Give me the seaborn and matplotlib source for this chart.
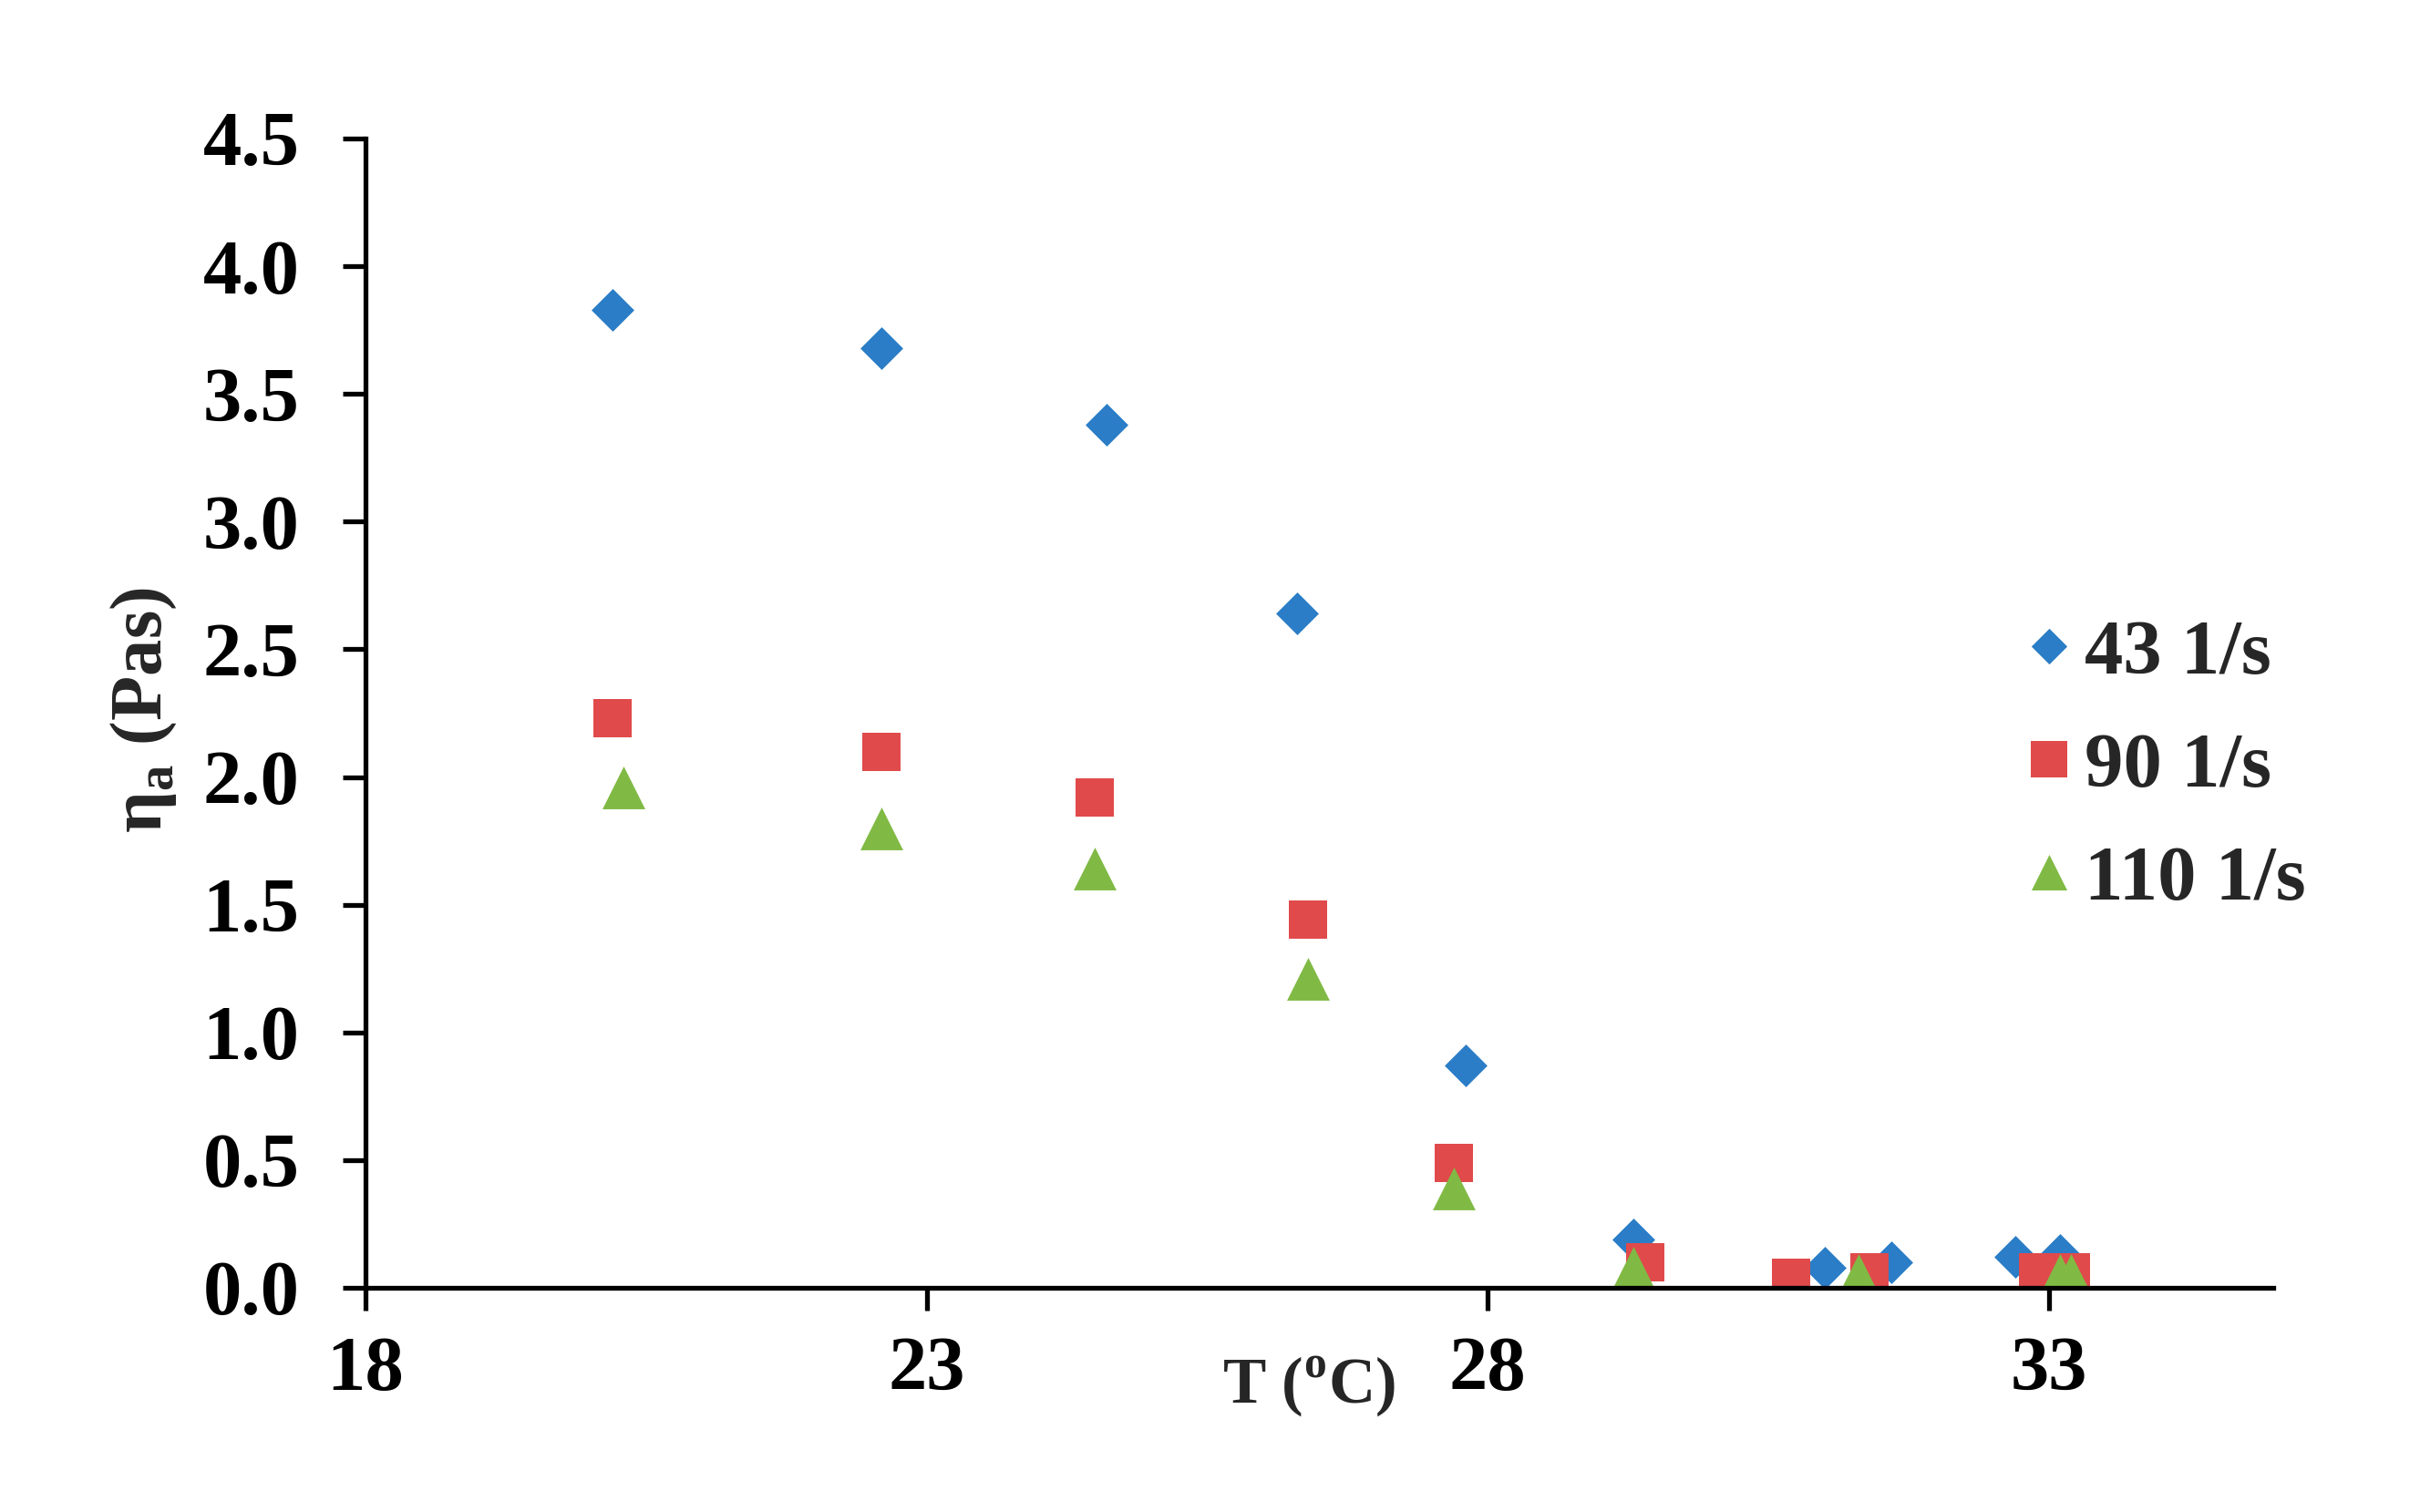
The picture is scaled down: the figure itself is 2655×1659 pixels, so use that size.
import matplotlib as mpl
mpl.use('Agg')
import matplotlib.pyplot as plt
import seaborn as sns
import numpy as np
from matplotlib.ticker import FormatStrFormatter

# shear rate 43 1/s
T43 = [20.2, 22.6, 24.6, 26.3, 27.8, 29.3, 31.0, 31.6, 32.7, 33.1]
eta43 = [3.83, 3.68, 3.38, 2.64, 0.87, 0.19, 0.08, 0.10, 0.12, 0.13]
# shear rate 90 1/s
T90 = [20.2, 22.6, 24.5, 26.4, 27.7, 29.4, 30.7, 31.4, 32.9, 33.2]
eta90 = [2.23, 2.10, 1.92, 1.44, 0.49, 0.10, 0.04, 0.06, 0.06, 0.06]
# shear rate 110 1/s
T110 = [20.3, 22.6, 24.5, 26.4, 27.7, 29.3, 31.3, 33.1, 33.2]
eta110 = [1.96, 1.80, 1.64, 1.21, 0.39, 0.08, 0.05, 0.05, 0.05]

labels = ["43 1/s", "90 1/s", "110 1/s"]
colors = ["#2A7DC6", "#E04A4A", "#80BA45"]
markers = ["D", "s", "^"]
sizes = [570, 910, 1140]
leg_sizes = [400, 870, 790]

xticks = [18, 23, 28, 33]
yticks = [0.0, 0.5, 1.0, 1.5, 2.0, 2.5, 3.0, 3.5, 4.0, 4.5]

sns.set_style("ticks")
plt.rcParams['font.family'] = ['Liberation Serif', 'DejaVu Serif']
plt.rcParams['font.weight'] = 'bold'
plt.rcParams['mathtext.fontset'] = 'custom'
plt.rcParams['mathtext.rm'] = 'Liberation Serif'
plt.rcParams['mathtext.bf'] = 'Liberation Serif:bold'

fig = plt.figure(figsize=(26.55, 16.59), dpi=100)
ax = fig.add_axes([0.151, 0.1483, 0.7884, 0.7601])

series = [(T43, eta43), (T90, eta90), (T110, eta110)]
for (x, y), lab, c, m, s in zip(series, labels, colors, markers, sizes):
    sns.scatterplot(x=x, y=y, ax=ax, marker=m, s=s, color=c,
                    linewidth=0, label=lab)

ax.set_xlim(18, 35)
ax.set_ylim(0, 4.5)
ax.set_xticks(xticks)
ax.set_yticks(yticks)
ax.yaxis.set_major_formatter(FormatStrFormatter('%.1f'))

for sp in ['top', 'right']:
    ax.spines[sp].set_visible(False)
for sp in ['left', 'bottom']:
    ax.spines[sp].set_linewidth(3.8)
    ax.spines[sp].set_color('black')

ax.tick_params(axis='both', length=18, width=3.8, direction='out',
               labelsize=61, colors='black')
ax.tick_params(axis='y', pad=34)
ax.tick_params(axis='x', pad=20)
for t in ax.get_xticklabels() + ax.get_yticklabels():
    t.set_fontweight('bold')

ax.set_xlabel(r"T ($^\mathbf{o}$C)", fontsize=51, fontweight='bold')
ax.xaxis.set_label_coords(0.4945, -0.058)
ax.set_ylabel(r"η$_\mathbf{a}$ (Pas)", fontsize=58, fontweight='bold')
ax.yaxis.set_label_coords(-0.098, 0.503)

leg = ax.legend(loc='center left', bbox_to_anchor=(0.8664, 0.4526),
                frameon=False, handlelength=0.8,
                handletextpad=0.06, labelspacing=0.55, borderpad=0,
                borderaxespad=0, scatterpoints=1, scatteryoffsets=[0.5],
                prop={'weight': 'bold', 'size': 61})
for h, s in zip(leg.legend_handles, leg_sizes):
    h.set_sizes([s])

fig.savefig("out.png", dpi=100, facecolor='white')
